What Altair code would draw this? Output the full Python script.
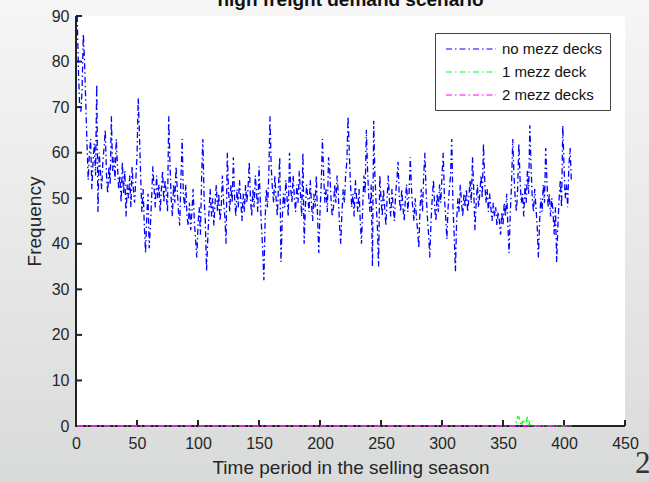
import altair as alt
import pandas as pd

# ---------------- data ----------------
no_mezz = [
    90, 78, 70, 69, 74, 86, 80, 71, 62, 54, 60, 63, 52, 58, 62, 55, 75, 47, 60, 56,
    52, 58, 61, 65, 55, 51, 57, 53, 68, 56, 59, 54, 63, 57, 52, 55, 49, 58, 51, 56,
    46, 53, 50, 55, 48, 57, 52, 49, 54, 59, 72, 64, 55, 47, 52, 44, 38, 46, 51, 39,
    44, 50, 57, 52, 48, 55, 50, 53, 47, 52, 56, 49, 54, 51, 47, 68, 58, 50, 46, 53,
    49, 57, 52, 47, 44, 54, 63, 51, 48, 53, 46, 44, 49, 43, 47, 52, 45, 41, 37, 44,
    48, 42, 55, 63, 50, 45, 34, 41, 47, 52, 46, 50, 44, 49, 53, 47, 51, 45, 48, 55,
    49, 46, 40, 60, 52, 47, 53, 49, 59, 50, 46, 52, 48, 54, 50, 45, 51, 47, 53, 49,
    52, 58, 50, 46, 52, 48, 55, 51, 47, 57, 50, 44, 39, 32, 45, 52, 48, 55, 68, 57,
    52, 49, 55, 50, 46, 53, 59, 36, 45, 51, 48, 54, 50, 46, 60, 52, 49, 55, 50, 47,
    53, 49, 56, 51, 46, 60, 40, 48, 53, 50, 47, 54, 49, 45, 51, 48, 55, 46, 38, 47,
    53, 63, 55, 49, 52, 47, 59, 56, 50, 46, 48, 53, 49, 55, 51, 44, 40, 47, 52, 49,
    55, 58, 68, 60, 53, 48, 51, 46, 54, 50, 47, 52, 45, 40, 48, 55, 51, 65, 56, 50,
    47, 53, 35, 67, 55, 49, 44, 35, 55, 50, 46, 52, 48, 44, 50, 55, 49, 46, 52, 48,
    45, 51, 54, 58, 50, 47, 52, 48, 45, 50, 53, 47, 51, 59, 52, 48, 45, 50, 46, 43,
    39, 48, 52, 47, 55, 60, 51, 46, 42, 37, 45, 50, 54, 48, 45, 51, 47, 53, 49, 55,
    60, 50, 46, 41, 48, 52, 55, 63, 48, 42, 34, 45, 50, 47, 53, 49, 46, 51, 48, 52,
    47, 50, 54, 49, 59, 52, 43, 49, 53, 48, 51, 55, 50, 62, 54, 49, 52, 47, 51, 48,
    45, 49, 46, 48, 44, 47, 45, 42, 47, 44, 49, 46, 51, 44, 38, 47, 53, 63, 55, 50,
    47, 52, 62, 54, 49, 51, 46, 53, 49, 56, 51, 66, 57, 50, 47, 52, 48, 44, 37, 45,
    50, 47, 53, 49, 61, 54, 48, 51, 46, 50, 47, 42, 48, 36, 44, 50, 54, 48, 66, 57,
    50, 53, 48, 57, 61, 54,
]
one_mezz_bump = [1, 2, 2, 1, 0, 1, 1, 0, 1, 2, 0, 1, 0]   # periods 361-373
one_mezz = [0] * 360 + one_mezz_bump + [0] * (len(no_mezz) - 373)
two_mezz = [0] * len(no_mezz)

series_names = ["no mezz decks", "1 mezz deck", "2 mezz decks"]
series_colors = ["#0000ff", "#00ff00", "#ff00ff"]
x_ticks = [0, 50, 100, 150, 200, 250, 300, 350, 400, 450]
y_ticks = [0, 10, 20, 30, 40, 50, 60, 70, 80, 90]

title_text = "high freight demand scenario"
x_title = "Time period in the selling season"
y_title = "Frequency"
page_number = "2"

# ---------------- tables ----------------
rows = []
for name, vals in zip(series_names, [no_mezz, one_mezz, two_mezz]):
    for i, v in enumerate(vals):
        rows.append({"t": i + 1, "v": v, "series": name})
df = pd.DataFrame(rows)
one = alt.Data(values=[{"k": 1}])

W, H = 549, 410
PAD = {"left": 76, "top": 16, "right": 24, "bottom": 56}
FONT = "Liberation Sans"
DASH = [6, 3, 1.5, 3]
AXC = "#222222"

xscale = alt.Scale(domain=[0, 450], nice=False, zero=False)
yscale = alt.Scale(domain=[0, 90], nice=False)

bg = alt.Chart(one).mark_rect(
    color=alt.Gradient(
        gradient="linear",
        stops=[alt.GradientStop(color="#f6f6f6", offset=0),
               alt.GradientStop(color="#d9dbda", offset=1)],
        x1=0, x2=0, y1=0, y2=1,
    )
).encode(
    x=alt.value(-PAD["left"]), x2=alt.value(W + PAD["right"]),
    y=alt.value(-PAD["top"]), y2=alt.value(H + PAD["bottom"]),
)

plot_bg = alt.Chart(one).mark_rect(color="white").encode(
    x=alt.value(0), x2=alt.value(W), y=alt.value(0), y2=alt.value(H)
)

# axis lines (box off, MATLAB style)
x_line = alt.Chart(one).mark_rule(color=AXC, strokeWidth=2).encode(
    x=alt.value(-1), x2=alt.value(W), y=alt.value(H)
)
y_line = alt.Chart(one).mark_rule(color=AXC, strokeWidth=2).encode(
    x=alt.value(0), y=alt.value(0), y2=alt.value(H + 1)
)

xt = alt.Chart(pd.DataFrame({"t": x_ticks})).mark_rule(
    color=AXC, strokeWidth=2
).encode(x=alt.X("t:Q", scale=xscale), y=alt.value(H), y2=alt.value(H - 6))

yt = alt.Chart(pd.DataFrame({"v": y_ticks})).mark_rule(
    color=AXC, strokeWidth=2
).encode(y=alt.Y("v:Q", scale=yscale), x=alt.value(0), x2=alt.value(6))

lines = alt.Chart(df).mark_line(strokeWidth=1.3, strokeDash=DASH).encode(
    x=alt.X("t:Q", scale=xscale,
            axis=alt.Axis(values=x_ticks, title=x_title, labelPadding=9,
                          titlePadding=7, labelFlush=False, zindex=2)),
    y=alt.Y("v:Q", scale=yscale,
            axis=alt.Axis(values=y_ticks, title=y_title, labelPadding=7,
                          titlePadding=7, labelFlush=False, zindex=2)),
    color=alt.Color(
        "series:N",
        scale=alt.Scale(domain=series_names, range=series_colors),
        legend=alt.Legend(
            orient="none", legendX=359, legendY=17, title=None,
            strokeColor="#444444", fillColor="white", padding=7,
            symbolType="M-0.625,0H5.625", symbolSize=256,
            symbolStrokeWidth=1.2, symbolDash=DASH,
            labelFont=FONT, labelFontSize=15, labelColor="#111111",
            rowPadding=6, labelOffset=42,
        ),
    ),
    detail="series:N",
)

title = alt.Chart(one).mark_text(
    text=title_text, font=FONT, fontSize=19, fontWeight="bold",
    color="#111111", align="center", baseline="alphabetic",
).encode(x=alt.value(W / 2), y=alt.value(-10.5))

pnum = alt.Chart(one).mark_text(
    text=page_number, font="Liberation Serif", fontSize=31,
    color="#333333", align="left", baseline="alphabetic",
).encode(x=alt.value(559), y=alt.value(457))

chart = alt.layer(bg, plot_bg, xt, yt, x_line, y_line, lines, title, pnum).properties(
    width=W, height=H,
    autosize=alt.AutoSizeParams(type="none"),
    padding=PAD,
).configure_view(stroke=None).configure_axis(
    domain=False, ticks=False, tickSize=0, grid=False,
    labelFont=FONT, labelFontSize=16, labelColor="#262626",
    titleFont=FONT, titleFontSize=19, titleFontWeight="normal",
    titleColor="#262626",
)

chart.save("out.html", embed_options={"renderer": "svg", "actions": False})
